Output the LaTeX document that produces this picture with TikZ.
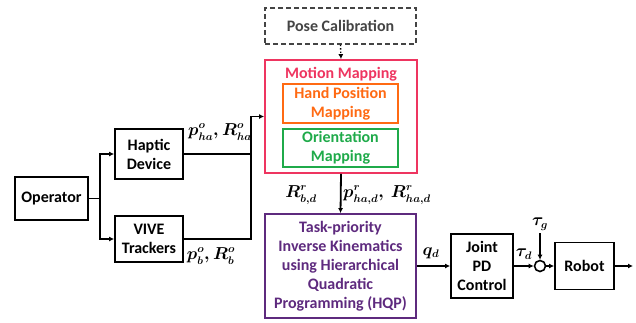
\documentclass[tikz,border=0pt]{standalone}
\usepackage{fontspec}
\setmainfont{Carlito}
\usetikzlibrary{arrows.meta}
\definecolor{mmred}{HTML}{EE3560}
\definecolor{hporange}{HTML}{FF6A13}
\definecolor{omgreen}{HTML}{1FAA4A}
\definecolor{tpurple}{HTML}{5E2A7E}
\definecolor{pgray}{HTML}{444444}
\begin{document}
\begin{tikzpicture}[x=1pt,y=-1pt,
  every node/.style={font=\fontsize{16}{19}\selectfont\bfseries},
  blk/.style={draw,line width=1.8pt,align=center,inner sep=0pt},
  lbl/.style={font=\fontsize{16}{19}\selectfont\boldmath,inner sep=0pt},
  arr/.style={line width=1.8pt,-{Latex[length=5pt,width=5pt]}},
  ln/.style={line width=1.8pt}]
\useasboundingbox (0,0) rectangle (636,322);
\node[blk,minimum width=73pt,minimum height=43pt] (op) at (51.5,198.5) {Operator};
\node[blk,minimum width=68pt,minimum height=50pt] (hap) at (149,154) {Haptic\\Device};
\node[blk,minimum width=68pt,minimum height=46pt] (vive) at (149,239) {VIVE\\Trackers};
\node[blk,draw=pgray,text=pgray,line width=1.5pt,dash pattern=on 5pt off 3pt,minimum width=151pt,minimum height=36pt] (pose) at (340.5,26) {Pose Calibration};
\node[blk,draw=mmred,minimum width=152pt,minimum height=113pt] (mm) at (341,116.5) {};
\node[text=mmred,inner sep=0pt] (mmt) at (341,74) {Motion Mapping};
\node[blk,draw=hporange,text=hporange,minimum width=115pt,minimum height=39pt] (hp) at (340.5,103.5) {Hand Position\\Mapping};
\node[blk,draw=omgreen,text=omgreen,minimum width=115pt,minimum height=38pt] (om) at (340.5,148) {Orientation\\Mapping};
\node[blk,draw=tpurple,text=tpurple,minimum width=151pt,minimum height=104pt] (task) at (340.5,266) {Task-priority\\Inverse Kinematics\\using Hierarchical\\Quadratic\\Programming (HQP)};
\node[blk,minimum width=62pt,minimum height=64pt] (joint) at (482,266) {Joint\\PD\\Control};
\node[draw,line width=1.6pt,circle,minimum size=11pt,inner sep=0pt] (sum) at (540,266) {};
\node[blk,minimum width=59pt,minimum height=47pt] (robot) at (584.5,266) {Robot};
\coordinate (split) at (100,198.5);
\coordinate (merge) at (251,116.5);
\coordinate (out) at (633,266);
\node[lbl] (lha) at (220,132) {$p^o_{ha}, R^o_{ha}$};
\node[lbl] (lb) at (211,256) {$p^o_{b}, R^o_{b}$};
\node[lbl] (lbd) at (301,195) {$R^r_{b,d}$};
\node[lbl] (lhad) at (387,195) {$p^r_{ha,d},\ R^r_{ha,d}$};
\node[lbl] (lq) at (431,253) {$q_d$};
\node[lbl] (ltd) at (524,254) {$\tau_d$};
\node[lbl] (ltg) at (540,224) {$\tau_g$};
\draw[ln] (op.east) -- (split);
\draw[arr] (split) |- (hap.west);
\draw[arr] (split) |- (vive.west);
\draw[ln] (hap.east) -| (merge);
\draw[arr] (vive.east) -| (merge) -- (mm.west);
\draw[line width=1.4pt,dotted,-{Latex[length=5pt,width=5pt]}] (pose.south) -- (mm.north);
\draw[arr] (mm.south) -- (task.north);
\draw[arr] (task.east) -- (joint.west);
\draw[arr] (joint.east) -- (sum.west);
\draw[arr,line width=1.2pt] (540,233) -- (sum.north);
\draw[arr] (sum.east) -- (robot.west);
\draw[arr] (robot.east) -- (out);
\end{tikzpicture}
\end{document}
